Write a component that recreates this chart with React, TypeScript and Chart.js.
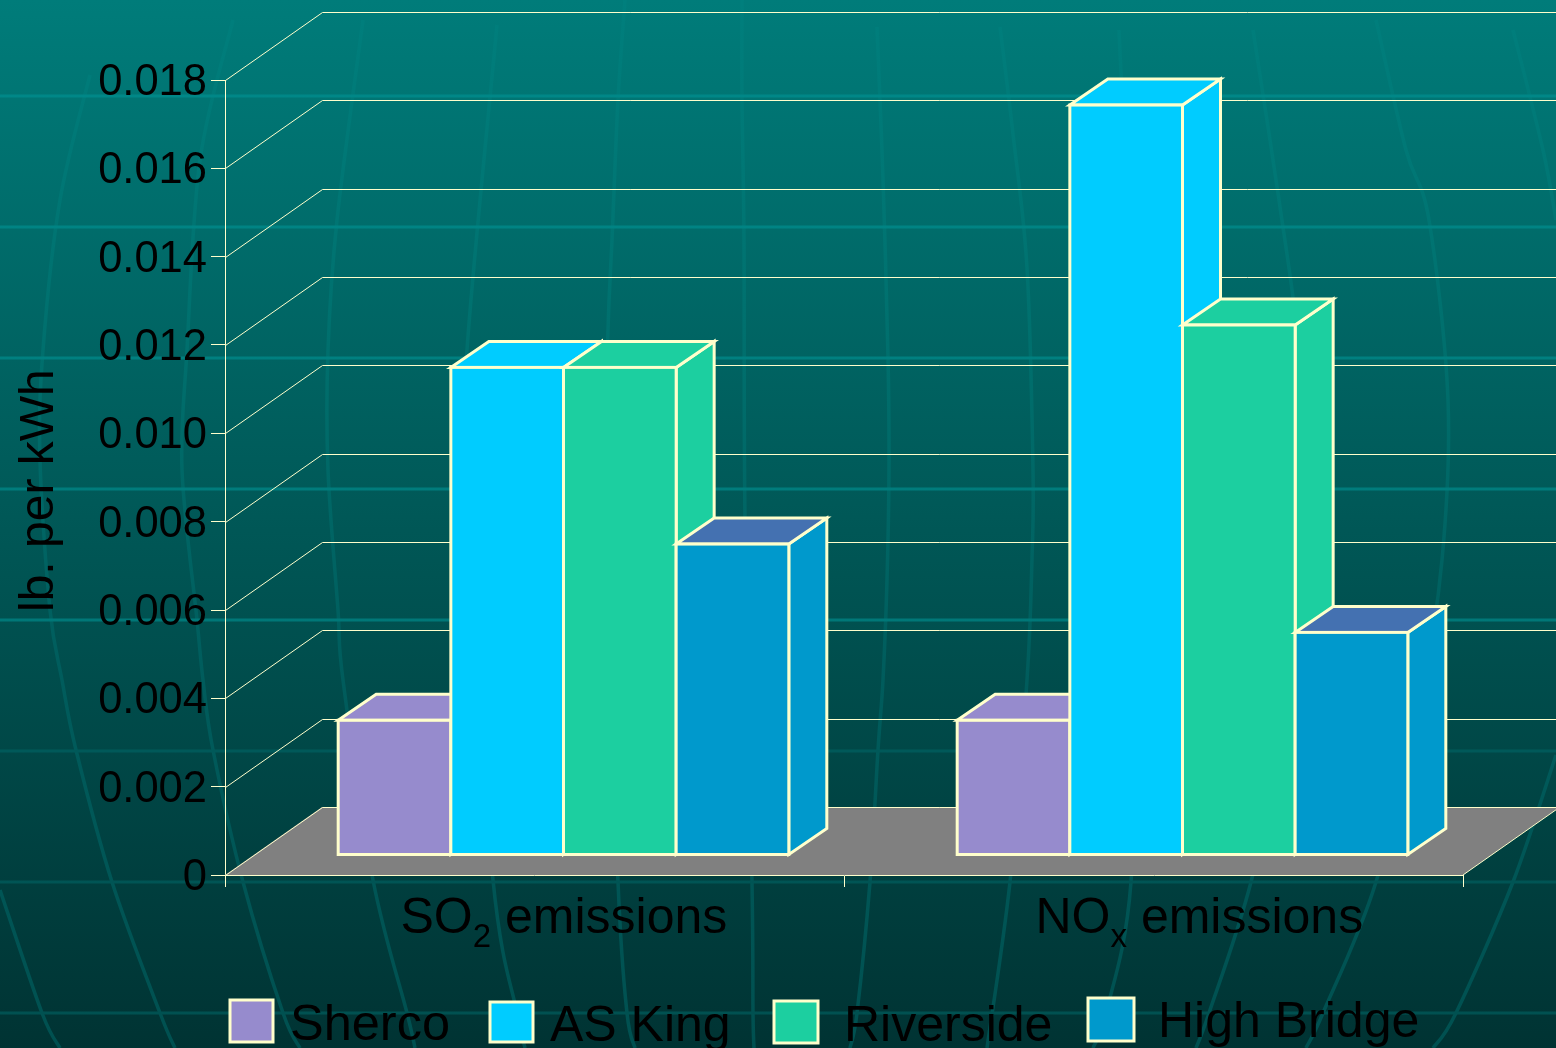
import React, { useEffect, useRef } from "react";
import { Chart, registerables } from "chart.js";

Chart.register(...registerables);

// ---- chart data ----
const categories = ["SO2 emissions", "NOx emissions"];
const seriesNames = ["Sherco", "AS King", "Riverside", "High Bridge"];
const sherco = [0.00305, 0.00305];
const asKing = [0.01104, 0.01698];
const riverside = [0.01104, 0.012];
const highBridge = [0.00704, 0.00504];
const seriesValues = [sherco, asKing, riverside, highBridge];
const frontColors = ["#968BCD", "#00CCFF", "#1CCFA0", "#0099CC"];
const topColors = ["#968BCD", "#00CCFF", "#1CCFA0", "#4471B1"];
const yTickLabels = ["0", "0.002", "0.004", "0.006", "0.008", "0.010", "0.012", "0.014", "0.016", "0.018"];
const yTitle = "lb. per kWh";

// ---- look ----
const FONT = '"Liberation Sans", Arial, sans-serif';
const EDGE = "#FFFFCC";
const WALL = { dx: 97, dy: -68 };
const BAR_SHIFT = { x: 29, y: -20 };
const BAR_DEPTH = { dx: 38, dy: -26 };
const W = 1556;
const H = 1048;

// Decorative globe behind the chart
const bands = [96, 227, 358, 489, 620, 751, 882, 1013];
const meridians: number[][][] = [
  [[90, 75], [60, 200], [43, 350], [40, 460], [50, 610], [62, 680], [76, 750], [112, 882], [160, 1013], [175, 1048]],
  [[233, 20], [200, 160], [187, 350], [182, 470], [197, 620], [203, 680], [213, 750], [243, 882], [283, 1013], [300, 1048]],
  [[0, 890], [42, 1013], [60, 1048]],
  [[363, 20], [337, 220], [328, 350], [328, 470], [338, 610], [343, 680], [373, 880], [407, 1013], [415, 1048]],
  [[497, 25], [467, 350], [465, 500], [493, 880], [517, 1013], [525, 1048]],
  [[625, 0], [618, 100], [612, 240], [608, 330], [605, 500], [618, 882], [627, 1013], [635, 1048]],
  [[742, 0], [742, 100], [744, 240], [745, 520], [752, 882], [753, 1013], [754, 1048]],
  [[877, 27], [883, 179], [888, 357], [889, 469], [887, 580], [883, 680], [878, 750], [870, 882], [857, 1013], [850, 1048]],
  [[1000, 27], [1013, 134], [1027, 268], [1033, 469], [1032, 558], [1027, 680], [1010, 882], [987, 1048]],
  [[1119, 30], [1133, 350], [1137, 600], [1131, 882], [1106, 1013], [1093, 1048]],
  [[1253, 30], [1279, 200], [1299, 350], [1305, 500], [1290, 700], [1251, 882], [1209, 1013], [1196, 1048]],
  [[1376, 20], [1406, 150], [1429, 220], [1448, 400], [1442, 560], [1420, 700], [1376, 882], [1323, 1013], [1306, 1048]],
  [[1513, 30], [1543, 150], [1556, 220]],
  [[1556, 755], [1513, 882], [1456, 1013], [1433, 1048]],
];

function smoothPath(ctx: CanvasRenderingContext2D, p: number[][]) {
  ctx.beginPath();
  ctx.moveTo(p[0][0], p[0][1]);
  for (let i = 0; i < p.length - 1; i++) {
    const a = p[Math.max(i - 1, 0)];
    const b = p[i];
    const c = p[i + 1];
    const d = p[Math.min(i + 2, p.length - 1)];
    ctx.bezierCurveTo(
      b[0] + (c[0] - a[0]) / 6,
      b[1] + (c[1] - a[1]) / 6,
      c[0] - (d[0] - b[0]) / 6,
      c[1] - (d[1] - b[1]) / 6,
      c[0],
      c[1]
    );
  }
  ctx.stroke();
}

const backdrop = {
  id: "backdrop",
  beforeDraw(chart: any) {
    const ctx = chart.ctx as CanvasRenderingContext2D;
    ctx.save();
    const bg = ctx.createLinearGradient(0, 0, 0, H);
    bg.addColorStop(0, "#007C7A");
    bg.addColorStop(1, "#003333");
    ctx.fillStyle = bg;
    ctx.fillRect(0, 0, W, H);

    const mer = ctx.createLinearGradient(0, 0, 0, H);
    mer.addColorStop(0, "#007F7D");
    mer.addColorStop(0.35, "#006E6C");
    mer.addColorStop(0.65, "#005C5C");
    mer.addColorStop(1, "#005050");
    ctx.strokeStyle = mer;
    ctx.lineWidth = 3.5;
    meridians.forEach((m) => smoothPath(ctx, m));

    const band = ctx.createLinearGradient(0, 0, 0, H);
    band.addColorStop(0, "#008A8A");
    band.addColorStop(0.59, "#007878");
    band.addColorStop(0.72, "#005858");
    band.addColorStop(1, "#005050");
    ctx.strokeStyle = band;
    ctx.lineWidth = 3;
    bands.forEach((y) => {
      ctx.beginPath();
      ctx.moveTo(0, y);
      ctx.lineTo(W, y);
      ctx.stroke();
    });
    ctx.restore();
  },
};

function drawBarDepth(ctx: CanvasRenderingContext2D, meta: any, i: number) {
  ctx.save();
  ctx.strokeStyle = EDGE;
  ctx.lineWidth = 3;
  ctx.lineJoin = "miter";
  meta.data.forEach((bar: any) => {
    const l = bar.x - bar.width / 2;
    const r = bar.x + bar.width / 2;
    const t = bar.y;
    const b = bar.base;
    ctx.fillStyle = frontColors[i];
    ctx.beginPath();
    ctx.moveTo(r, t);
    ctx.lineTo(r + BAR_DEPTH.dx, t + BAR_DEPTH.dy);
    ctx.lineTo(r + BAR_DEPTH.dx, b + BAR_DEPTH.dy);
    ctx.lineTo(r, b);
    ctx.closePath();
    ctx.fill();
    ctx.stroke();
    ctx.fillStyle = topColors[i];
    ctx.beginPath();
    ctx.moveTo(l, t);
    ctx.lineTo(l + BAR_DEPTH.dx, t + BAR_DEPTH.dy);
    ctx.lineTo(r + BAR_DEPTH.dx, t + BAR_DEPTH.dy);
    ctx.lineTo(r, t);
    ctx.closePath();
    ctx.fill();
    ctx.stroke();
  });
  ctx.restore();
}

const faces = {
  id: "faces",
  beforeDatasetsDraw(chart: any) {
    const ctx = chart.ctx as CanvasRenderingContext2D;
    const yScale = chart.scales.y;
    const xScale = chart.scales.x;
    const left = xScale.left;
    const right = xScale.right;
    const floorY = yScale.getPixelForValue(0);
    ctx.save();
    // floor
    ctx.fillStyle = "#808080";
    ctx.beginPath();
    ctx.moveTo(left, floorY);
    ctx.lineTo(left + WALL.dx, floorY + WALL.dy);
    ctx.lineTo(W + 4, floorY + WALL.dy);
    ctx.lineTo(right + WALL.dx, floorY + WALL.dy);
    ctx.lineTo(right, floorY);
    ctx.closePath();
    ctx.fill();
    // wall grid
    ctx.strokeStyle = EDGE;
    ctx.lineWidth = 1;
    yScale.ticks.forEach((t: any) => {
      const y = Math.round(yScale.getPixelForValue(t.value)) + 0.5;
      ctx.beginPath();
      ctx.moveTo(left + 0.5, y);
      ctx.lineTo(left + WALL.dx + 0.5, y + WALL.dy);
      ctx.lineTo(W, y + WALL.dy);
      ctx.stroke();
    });
    // right floor edge
    ctx.beginPath();
    ctx.moveTo(right, floorY);
    ctx.lineTo(right + WALL.dx, floorY + WALL.dy);
    ctx.stroke();
    ctx.restore();
  },
  // The library's back-to-front default would paint Sherco last; the 3D boxes need
  // left-to-right painting, so the library's per-dataset pass is skipped and run below.
  beforeDatasetDraw() {
    return false;
  },
  afterDatasetsDraw(chart: any) {
    const ctx = chart.ctx as CanvasRenderingContext2D;
    ctx.save();
    ctx.translate(BAR_SHIFT.x, BAR_SHIFT.y);
    seriesNames.forEach((_n, i) => {
      const meta = chart.getDatasetMeta(i);
      drawBarDepth(ctx, meta, i);
      meta.controller.draw();
      ctx.save();
      ctx.strokeStyle = EDGE;
      ctx.lineWidth = 3;
      meta.data.forEach((bar: any) => {
        ctx.strokeRect(bar.x - bar.width / 2, bar.y, bar.width, bar.base - bar.y);
      });
      ctx.restore();
    });
    ctx.restore();
  },
};

// Category labels with a true subscript, y title and legend placed as in the slide
const labelStart = [-134, -118];
const legendSlots = [
  { box: [230, 1000, 43, 42], tx: 290, ty: 1040, size: 50.5 },
  { box: [490, 1002, 43, 40], tx: 550, ty: 1041, size: 50 },
  { box: [774, 1001, 44, 42], tx: 844, ty: 1041, size: 50 },
  { box: [1088, 998, 46, 43], tx: 1158, ty: 1037, size: 50 },
];

const annotations = {
  id: "annotations",
  afterDraw(chart: any) {
    const ctx = chart.ctx as CanvasRenderingContext2D;
    const xScale = chart.scales.x;
    ctx.save();
    ctx.fillStyle = "#000000";
    ctx.textBaseline = "alphabetic";
    ctx.textAlign = "left";

    categories.forEach((label, i) => {
      const m = label.match(/^([A-Z]+)(\w)( .*)$/) as RegExpMatchArray;
      let x = xScale.getPixelForTick(i) + labelStart[i];
      ctx.font = `50px ${FONT}`;
      ctx.fillText(m[1], x, 933);
      x += ctx.measureText(m[1]).width;
      ctx.font = `33px ${FONT}`;
      ctx.fillText(m[2], x, 947);
      x += ctx.measureText(m[2]).width;
      ctx.font = `50px ${FONT}`;
      ctx.fillText(m[3], x, 933);
    });

    ctx.save();
    ctx.translate(53, 612);
    ctx.rotate(-Math.PI / 2);
    ctx.font = `48px ${FONT}`;
    ctx.fillText(yTitle, 0, 0);
    ctx.restore();

    seriesNames.forEach((name, i) => {
      const s = legendSlots[i];
      ctx.fillStyle = frontColors[i];
      ctx.fillRect(s.box[0], s.box[1], s.box[2], s.box[3]);
      ctx.strokeStyle = EDGE;
      ctx.lineWidth = 3;
      ctx.strokeRect(s.box[0], s.box[1], s.box[2], s.box[3]);
      ctx.fillStyle = "#000000";
      ctx.font = `${s.size}px ${FONT}`;
      ctx.fillText(name, s.tx, s.ty);
    });
    ctx.restore();
  },
};

export default function App() {
  const ref = useRef<HTMLCanvasElement | null>(null);
  useEffect(() => {
    document.body.style.margin = "0";
    const chart = new Chart(ref.current as HTMLCanvasElement, {
      type: "bar",
      data: {
        labels: categories,
        datasets: seriesNames.map((name, i) => ({
          label: name,
          data: seriesValues[i],
          backgroundColor: frontColors[i],
          borderWidth: 0,
          clip: false,
        })),
      } as any,
      options: {
        animation: false,
        responsive: false,
        devicePixelRatio: 1,
        layout: { padding: { left: 0, top: 80, right: W - 1463, bottom: 0 } },
        plugins: { legend: { display: false }, tooltip: { enabled: false }, title: { display: false } },
        datasets: { bar: { categoryPercentage: 0.728, barPercentage: 1 } },
        scales: {
          x: {
            offset: true,
            grid: { display: true, offset: true, drawOnChartArea: false, drawTicks: true, tickLength: 12, color: EDGE, lineWidth: 1 },
            border: { display: true, color: EDGE, width: 1 },
            ticks: { display: false },
            afterFit(scale: any) {
              scale.height = H - 875;
              scale.paddingLeft = 0;
              scale.paddingRight = 0;
            },
          },
          y: {
            min: 0,
            max: 0.018,
            grid: { display: true, drawOnChartArea: false, drawTicks: true, tickLength: 14, color: EDGE, lineWidth: 1 },
            border: { display: true, color: EDGE, width: 1 },
            ticks: {
              stepSize: 0.002,
              color: "#000000",
              padding: 4,
              labelOffset: 3,
              font: { family: FONT, size: 43.5 },
              callback: (_v: any, i: number) => yTickLabels[i],
            },
            afterFit(scale: any) {
              scale.width = 225;
              scale.paddingTop = 0;
              scale.paddingBottom = 0;
            },
          },
        },
      } as any,
      plugins: [backdrop, faces, annotations],
    });
    return () => chart.destroy();
  }, []);
  return (
    <div style={{ position: "absolute", left: 0, top: 0, width: W, height: H, overflow: "hidden" }}>
      <canvas ref={ref} width={W} height={H} style={{ display: "block" }} />
    </div>
  );
}
